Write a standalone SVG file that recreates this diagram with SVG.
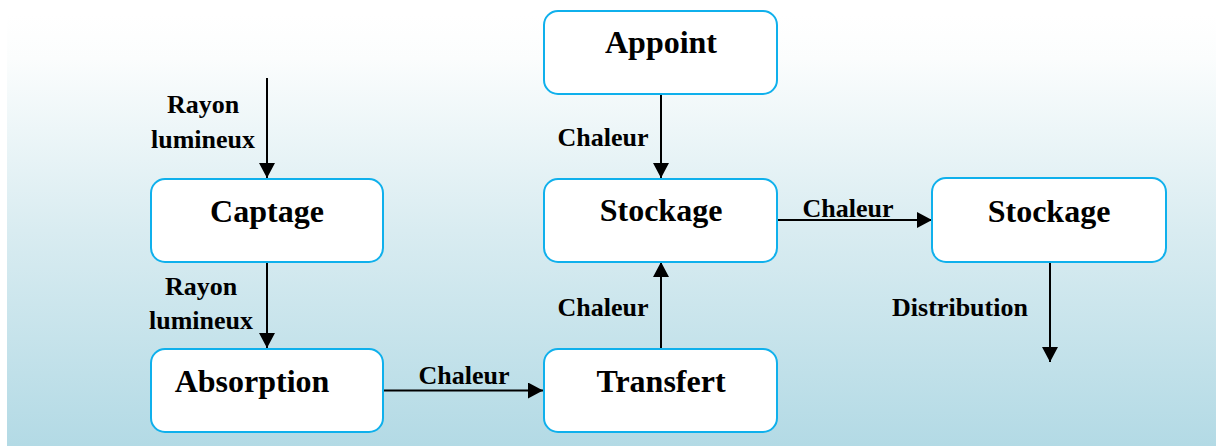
<svg xmlns="http://www.w3.org/2000/svg" width="1216" height="446" viewBox="0 0 1216 446">
<defs>
<linearGradient id="bg" x1="0" y1="0" x2="0" y2="1">
<stop offset="0" stop-color="#ffffff"/>
<stop offset="0.1" stop-color="#fbfdfd"/>
<stop offset="0.5" stop-color="#d9ecf1"/>
<stop offset="1" stop-color="#b3dae5"/>
</linearGradient>
<marker id="ah" viewBox="0 0 15 16" markerUnits="userSpaceOnUse" markerWidth="15" markerHeight="16" refX="15" refY="8" orient="auto">
<path d="M0,0 L15,8 L0,16 z" fill="#000"/>
</marker>
<style>
.box{fill:#ffffff;stroke:#0fb0ec;stroke-width:2}
.nl{font-family:"Liberation Serif","Times New Roman",serif;font-weight:bold;font-size:32px;fill:#000;text-anchor:middle}
.el{font-family:"Liberation Serif","Times New Roman",serif;font-weight:bold;font-size:26px;fill:#000;text-anchor:middle}
.cn{stroke:#000;stroke-width:2;fill:none;marker-end:url(#ah)}
</style>
</defs>
<rect x="7" y="15" width="1209" height="431" fill="url(#bg)"/>
<g id="connectors">
<line class="cn" x1="267" y1="78" x2="267" y2="178"/>
<line class="cn" x1="267" y1="262" x2="267" y2="348"/>
<line class="cn" x1="383" y1="390.5" x2="543" y2="390.5"/>
<line class="cn" x1="661" y1="94" x2="661" y2="178"/>
<line class="cn" x1="661" y1="348" x2="661" y2="262"/>
<line class="cn" x1="777" y1="220" x2="932" y2="220"/>
<line class="cn" x1="1050" y1="262" x2="1050" y2="362"/>
<g id="edge-labels">
<text class="el" x="203" y="113">Rayon</text>
<text class="el" x="203" y="148">lumineux</text>
<text class="el" x="201" y="295">Rayon</text>
<text class="el" x="201" y="329">lumineux</text>
<text class="el" x="464" y="384">Chaleur</text>
<text class="el" x="603" y="146">Chaleur</text>
<text class="el" x="603" y="316">Chaleur</text>
<text class="el" x="848" y="217">Chaleur</text>
<text class="el" x="960" y="316">Distribution</text>
</g>
</g>
<g id="captage"><rect class="box" x="151" y="179" width="232" height="83" rx="14"/><text class="nl" x="267" y="222">Captage</text></g>
<g id="absorption"><rect class="box" x="151" y="349" width="232" height="83" rx="14"/><text class="nl" x="252" y="392">Absorption</text></g>
<g id="appoint"><rect class="box" x="544" y="11" width="233" height="83" rx="14"/><text class="nl" x="661" y="53">Appoint</text></g>
<g id="stockage1"><rect class="box" x="544" y="179" width="233" height="83" rx="14"/><text class="nl" x="661" y="221">Stockage</text></g>
<g id="transfert"><rect class="box" x="544" y="349" width="233" height="83" rx="14"/><text class="nl" x="661" y="392">Transfert</text></g>
<g id="stockage2"><rect class="box" x="932" y="178" width="234" height="84" rx="14"/><text class="nl" x="1049" y="222">Stockage</text></g>
</svg>
